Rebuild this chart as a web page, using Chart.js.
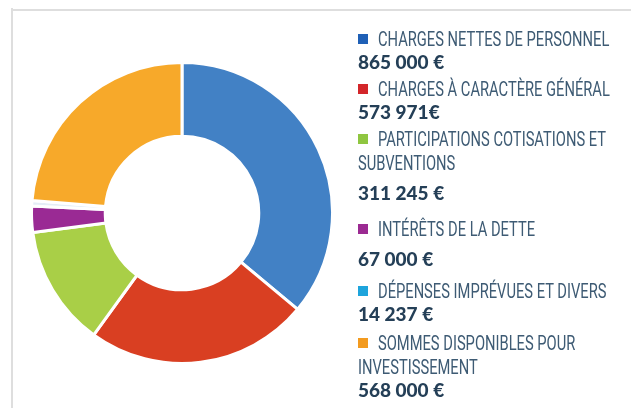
<!DOCTYPE html>
<html>
<head>
<meta charset="utf-8">
<script src="https://cdn.jsdelivr.net/npm/chart.js@4.4.0/dist/chart.umd.min.js"></script>
<style>
  html, body { margin: 0; padding: 0; background: #ffffff; }
  body { width: 638px; height: 408px; position: relative; overflow: hidden; }
  .frameV { position: absolute; left: 11px; top: 8px; width: 2px; height: 400px; background: #dedede; }
  .frameH { position: absolute; left: 11px; top: 9px; width: 620px; height: 2px; background: #dedede; }
  #wrap { position: absolute; left: 28px; top: 61px; width: 308px; height: 304px; }
  #legend { position: absolute; left: 0; top: 0; width: 638px; height: 408px; }
  .item { position: absolute; left: 358px; }
  .sq { position: absolute; left: 0; top: 7px; width: 10px; height: 10px; }
  .title { font-family: Roboto, "DejaVu Sans", sans-serif; font-weight: 400; font-size: 20px; line-height: 24px; color: #3e5b74; white-space: nowrap; }
  .title span { display: block; transform: scaleX(0.735); transform-origin: 0 50%; }
  .title span:first-child { margin-left: 20px; }
  .val { font-family: Lato, Roboto, sans-serif; font-weight: 900; font-size: 19px; line-height: 22px; color: #243f57; white-space: nowrap; }
</style>
</head>
<body>
<div class="frameV"></div>
<div class="frameH"></div>
<div id="wrap"><canvas id="c"></canvas></div>
<div id="legend"></div>
<script>
// ---- data ----
const titleLines = [
  ["CHARGES NETTES DE PERSONNEL"],
  ["CHARGES À CARACTÈRE GÉNÉRAL"],
  ["PARTICIPATIONS COTISATIONS ET", "SUBVENTIONS"],
  ["INTÉRÊTS DE LA DETTE"],
  ["DÉPENSES IMPRÉVUES ET DIVERS"],
  ["SOMMES DISPONIBLES POUR", "INVESTISSEMENT"]
];
const amounts = [865000, 573971, 311245, 67000, 14237, 568000];
const amountLabels = ["865 000 €", "573 971€", "311 245 €", "67 000 €", "14 237 €", "568 000 €"];
const sliceColors = ["#4281c5", "#d93f22", "#a9cf47", "#9a2a94", "#e4edf6", "#f7a92a"];
const legendColors = ["#1f60b6", "#d3262a", "#8fc640", "#9b2a92", "#1ea4dc", "#f39b1f"];

// ---- layout (styles only) ----
const itemTops = [27, 77, 127, 217, 279, 331];
const valueGaps = [0, 0, 7, 7, 0, 0];

const legend = document.getElementById('legend');
titleLines.forEach((lines, i) => {
  const it = document.createElement('div');
  it.className = 'item';
  it.style.top = itemTops[i] + 'px';
  const sq = document.createElement('div');
  sq.className = 'sq';
  sq.style.background = legendColors[i];
  it.appendChild(sq);
  const t = document.createElement('div');
  t.className = 'title';
  lines.forEach(l => { const s = document.createElement('span'); s.textContent = l; t.appendChild(s); });
  it.appendChild(t);
  const v = document.createElement('div');
  v.className = 'val';
  v.style.marginTop = valueGaps[i] + 'px';
  v.textContent = amountLabels[i];
  it.appendChild(v);
  legend.appendChild(it);
});

new Chart(document.getElementById('c'), {
  type: 'doughnut',
  data: {
    labels: titleLines.map(l => l.join(' ')),
    datasets: [{
      data: amounts,
      backgroundColor: sliceColors,
      borderColor: '#ffffff',
      borderWidth: 3,
      hoverOffset: 0
    }]
  },
  options: {
    responsive: true,
    maintainAspectRatio: false,
    animation: false,
    cutout: '51%',
    layout: { padding: 0 },
    plugins: { legend: { display: false }, tooltip: { enabled: false } }
  }
});
</script>
</body>
</html>
